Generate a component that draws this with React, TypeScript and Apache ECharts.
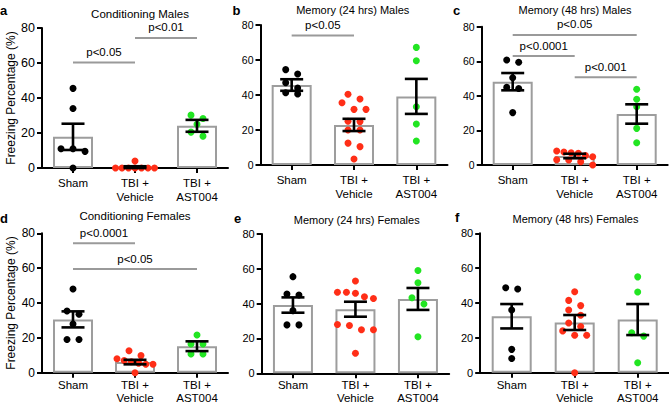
import React, { useEffect, useRef } from 'react';
import * as echarts from 'echarts';

// ---------- data ----------
const CATEGORIES = ['Sham', 'TBI +\nVehicle', 'TBI +\nAST004'];
const Y_MIN = 0;
const Y_MAX = 80;
const Y_STEP = 20;
const Y_NAME = 'Freezing Percentage (%)';

const PANEL_LETTERS = ['a', 'b', 'c', 'd', 'e', 'f'];
const PANEL_TITLES = [
  'Conditioning Males',
  'Memory (24 hrs) Males',
  'Memory (48 hrs) Males',
  'Conditioning Females',
  'Memory (24 hrs) Females',
  'Memory (48 hrs) Females',
];

// Panel a — Conditioning Males
const aSham = [45.5, 34, 11, 11, 9.5, 0];
const aVehicle = [4, 0, 0, 0, 0, 0, 0, 0];
const aAst = [30.2, 28.3, 25, 20.5, 18.2];
const aMean = [17.8, 0.5, 24.1];
const aSem = [7.5, 0.5, 3.4];

// Panel b — Memory (24 hrs) Males
const bSham = [54.5, 52, 47, 44, 41.3, 40.6];
const bVehicle = [40.4, 37.7, 35.6, 31.8, 31.8, 25, 24.8, 20, 20, 12.5, 10.5, 3.4];
const bAst = [67.2, 59.6, 33.3, 23.4, 13.7];
const bMean = [45.7, 22.9, 39.2];
const bSem = [3.3, 3.5, 10];

// Panel c — Memory (48 hrs) Males
const cSham = [60.7, 59.4, 50.5, 44.9, 44.3, 30.3];
const cVehicle = [8.1, 7.5, 7, 6.8, 5.5, 4.8, 3, 2.9, 1.9, 0];
const cAst = [43.8, 38, 33.7, 21.2, 12.9];
const cMean = [48.2, 5.2, 29.5];
const cSem = [5, 1.3, 5.6];

// Panel d — Conditioning Females
const dSham = [48, 35.4, 33.5, 28, 19.1, 19.1];
const dVehicle = [12.6, 9.8, 8, 7, 6.3, 5.5, 4.8, 4.8, 0];
const dAst = [21.6, 16.5, 16.5, 10.7, 10.7];
const dMean = [30.6, 6.1, 15.2];
const dSem = [4.6, 1.3, 2.8];

// Panel e — Memory (24 hrs) Females
const eSham = [55.5, 45.5, 45, 36, 27.8, 27.8];
const eVehicle = [53, 46.5, 46.5, 46, 44, 43, 28, 27.5, 25, 25, 11.5];
const eAst = [59, 52, 43.4, 39.8, 21];
const eMean = [39.2, 36.8, 42.7];
const eSem = [4.4, 4.3, 6.3];

// Panel f — Memory (48 hrs) Females
const fSham = [48.8, 48, 36, 13.4, 8.2];
const fVehicle = [46.5, 41.5, 38.5, 36, 33, 28.5, 26.5, 24, 21.5, 21.5, 0];
const fAst = [55, 46.3, 22.9, 21, 5.7];
const fMean = [32.4, 28.8, 30.5];
const fSem = [7, 4.3, 8.9];

// Significance brackets: [fromCategory, toCategory, level, label]
const aBrackets: [number, number, number, string][] = [
  [0, 1, 60.3, 'p<0.05'],
  [1, 2, 74.3, 'p<0.01'],
];
const bBrackets: [number, number, number, string][] = [[0, 1, 74, 'p<0.05']];
const cBrackets: [number, number, number, string][] = [
  [0, 2, 75.2, 'p<0.05'],
  [0, 1, 63, 'p<0.0001'],
  [1, 2, 50.7, 'p<0.001'],
];
const dBrackets: [number, number, number, string][] = [
  [0, 1, 74.3, 'p<0.0001'],
  [0, 2, 59.5, 'p<0.05'],
];
const eBrackets: [number, number, number, string][] = [];
const fBrackets: [number, number, number, string][] = [];

const PANEL_DATA = [
  { groups: [aSham, aVehicle, aAst], mean: aMean, sem: aSem, brackets: aBrackets },
  { groups: [bSham, bVehicle, bAst], mean: bMean, sem: bSem, brackets: bBrackets },
  { groups: [cSham, cVehicle, cAst], mean: cMean, sem: cSem, brackets: cBrackets },
  { groups: [dSham, dVehicle, dAst], mean: dMean, sem: dSem, brackets: dBrackets },
  { groups: [eSham, eVehicle, eAst], mean: eMean, sem: eSem, brackets: eBrackets },
  { groups: [fSham, fVehicle, fAst], mean: fMean, sem: fSem, brackets: fBrackets },
];

// ---------- layout / style ----------
const FONT = '"Liberation Sans", Arial, Helvetica, sans-serif';
const GROUP_COLORS = ['#000000', '#ff2e17', '#22e522'];
const BAR_BORDER = '#9d9d9d';
const BRACKET_COLOR = '#9a9a9a';

const LAYOUT = [
  { left: 42, top: 28, width: 186, height: 140, tickFont: 12.5, titleX: 140, titleY: 13.5, letterX: 0, letterY: 10.5, yName: true, titleFont: 11.5, catMargin: 8, catLine: 13.7 },
  { left: 260.5, top: 25, width: 187, height: 140, tickFont: 10.5, titleX: 352.7, titleY: 10, letterX: 232.5, letterY: 10, yName: false, titleFont: 11, catMargin: 8, catLine: 13.7 },
  { left: 481.7, top: 26.7, width: 186, height: 138.3, tickFont: 10.5, titleX: 575, titleY: 10, letterX: 453, letterY: 10.5, yName: false, titleFont: 11, catMargin: 8, catLine: 13.7 },
  { left: 42, top: 233.3, width: 186, height: 139.4, tickFont: 12, titleX: 135, titleY: 215.5, letterX: 0, letterY: 218.5, yName: true, titleFont: 11.5, catMargin: 6, catLine: 13 },
  { left: 261.7, top: 234, width: 187.5, height: 139.3, tickFont: 11, titleX: 356.7, titleY: 220, letterX: 234, letterY: 218, yName: false, titleFont: 11, catMargin: 5.5, catLine: 13 },
  { left: 480.2, top: 233.3, width: 189, height: 139.4, tickFont: 11, titleX: 575.5, titleY: 218.5, letterX: 455, letterY: 217.5, yName: false, titleFont: 11, catMargin: 6, catLine: 13 },
];

// Simple centred beeswarm: points that would overlap vertically are laid out in a row.
function swarmOffsets(values: number[], pxPerUnit: number): number[] {
  const order = values.map((_, i) => i).sort((p, q) => values[q] - values[p]);
  const offsets = new Array(values.length).fill(0);
  const thr = 6.8 / pxPerUnit;
  let i = 0;
  while (i < order.length) {
    const start = values[order[i]];
    const row = [order[i]];
    let j = i + 1;
    while (j < order.length && start - values[order[j]] < thr) {
      row.push(order[j]);
      j++;
    }
    const n = row.length;
    const sp = n <= 4 ? 12 : Math.max(6.5, 36 / (n - 1));
    row.forEach((k, m) => {
      offsets[k] = (m - (n - 1) / 2) * sp;
    });
    i = j;
  }
  return offsets;
}

function buildOption() {
  const grid: any[] = [];
  const xAxis: any[] = [];
  const yAxis: any[] = [];
  const series: any[] = [];
  const graphic: any[] = [];

  LAYOUT.forEach((L, p) => {
    const D = PANEL_DATA[p];
    grid.push({ left: L.left, top: L.top, width: L.width, height: L.height, containLabel: false, outerBoundsMode: 'none' });
    xAxis.push({
      type: 'category',
      gridIndex: p,
      data: CATEGORIES,
      boundaryGap: true,
      axisLine: { show: true, lineStyle: { color: '#000', width: 2 } },
      axisTick: { show: true, alignWithLabel: true, length: 5, lineStyle: { color: '#000', width: 2 } },
      axisLabel: { show: true, interval: 0, color: '#000', fontSize: 11.5, lineHeight: L.catLine, margin: L.catMargin, fontFamily: FONT },
      splitLine: { show: false },
    });
    yAxis.push({
      type: 'value',
      gridIndex: p,
      min: Y_MIN,
      max: Y_MAX,
      interval: Y_STEP,
      axisLine: { show: true, lineStyle: { color: '#000', width: 2 } },
      axisTick: { show: true, length: 5, lineStyle: { color: '#000', width: 2 } },
      axisLabel: { show: true, color: '#000', fontSize: L.tickFont, margin: 7, fontFamily: FONT },
      splitLine: { show: false },
      name: L.yName ? Y_NAME : '',
      nameLocation: 'middle',
      nameGap: 25,
      nameTextStyle: { color: '#000', fontSize: 12, fontFamily: FONT },
    });

    // bars (means)
    series.push({
      type: 'bar',
      xAxisIndex: p,
      yAxisIndex: p,
      data: D.mean,
      barWidth: 40,
      itemStyle: { color: '#ffffff', borderColor: BAR_BORDER, borderWidth: 2 },
      z: 2,
      silent: true,
    });

    // individual points
    const pxPerUnit = L.height / (Y_MAX - Y_MIN);
    D.groups.forEach((vals, g) => {
      const offs = swarmOffsets(vals, pxPerUnit);
      series.push({
        type: 'scatter',
        xAxisIndex: p,
        yAxisIndex: p,
        symbol: 'circle',
        symbolSize: 7,
        clip: false,
        itemStyle: { color: GROUP_COLORS[g], opacity: 1 },
        data: vals.map((v, k) => ({ value: [g, v], symbolOffset: [offs[k], 0] })),
        z: 3,
        silent: true,
      });
    });

    // error bars (mean ± SEM)
    series.push({
      type: 'custom',
      xAxisIndex: p,
      yAxisIndex: p,
      encode: { x: 0, y: 1 },
      data: D.mean.map((m, g) => [g, m, D.sem[g]]),
      clip: false,
      z: 4,
      silent: true,
      renderItem: (params: any, api: any) => {
        const g = api.value(0);
        const m = api.value(1);
        const s = api.value(2);
        const top = api.coord([g, m + s]);
        const bot = api.coord([g, Math.max(Y_MIN, m - s)]);
        const x = top[0];
        const hw = 11.5;
        const st = { stroke: '#000', lineWidth: 2.6 };
        return {
          type: 'group',
          children: [
            { type: 'line', shape: { x1: x, y1: top[1], x2: x, y2: bot[1] }, style: st },
            { type: 'line', shape: { x1: x - hw, y1: top[1], x2: x + hw, y2: top[1] }, style: st },
            { type: 'line', shape: { x1: x - hw, y1: bot[1], x2: x + hw, y2: bot[1] }, style: st },
          ],
        };
      },
    });

    // significance brackets
    if (D.brackets.length) {
      const labels = D.brackets.map((b) => b[3]);
      series.push({
        type: 'custom',
        xAxisIndex: p,
        yAxisIndex: p,
        encode: { x: 0, y: 1 },
        data: D.brackets.map((b) => [b[0], b[2], b[1]]),
        clip: false,
        z: 5,
        silent: true,
        renderItem: (params: any, api: any) => {
          const from = api.value(0);
          const lvl = api.value(1);
          const to = api.value(2);
          const p1 = api.coord([from, lvl]);
          const p2 = api.coord([to, lvl]);
          return {
            type: 'group',
            children: [
              { type: 'line', shape: { x1: p1[0], y1: p1[1], x2: p2[0], y2: p2[1] }, style: { stroke: BRACKET_COLOR, lineWidth: 2 } },
              {
                type: 'text',
                x: (p1[0] + p2[0]) / 2,
                y: p1[1] - 4.5,
                style: {
                  text: labels[params.dataIndex],
                  fill: '#000',
                  fontSize: 11.5,
                  fontFamily: FONT,
                  textAlign: 'center',
                  textVerticalAlign: 'bottom',
                },
              },
            ],
          };
        },
      });
    }

    // titles and panel letters
    graphic.push({
      type: 'text',
      x: L.titleX,
      y: L.titleY,
      silent: true,
      style: { text: PANEL_TITLES[p], fill: '#000', fontSize: L.titleFont, fontFamily: FONT, textAlign: 'center', textVerticalAlign: 'middle' },
    });
    graphic.push({
      type: 'text',
      x: L.letterX,
      y: L.letterY,
      silent: true,
      style: { text: PANEL_LETTERS[p], fill: '#000', fontSize: 13, fontWeight: 'bold', fontFamily: FONT, textAlign: 'left', textVerticalAlign: 'middle' },
    });
  });

  return {
    animation: false,
    backgroundColor: '#ffffff',
    grid,
    xAxis,
    yAxis,
    series,
    graphic,
  };
}

export default function App() {
  const ref = useRef<HTMLDivElement>(null);
  useEffect(() => {
    if (!ref.current) return;
    const chart = echarts.init(ref.current, undefined, { renderer: 'svg', width: 669, height: 406 });
    chart.setOption(buildOption() as any);
    return () => {
      chart.dispose();
    };
  }, []);
  return (
    <div
      ref={ref}
      style={{ position: 'fixed', left: 0, top: 0, width: 669, height: 406, background: '#ffffff' }}
    />
  );
}
